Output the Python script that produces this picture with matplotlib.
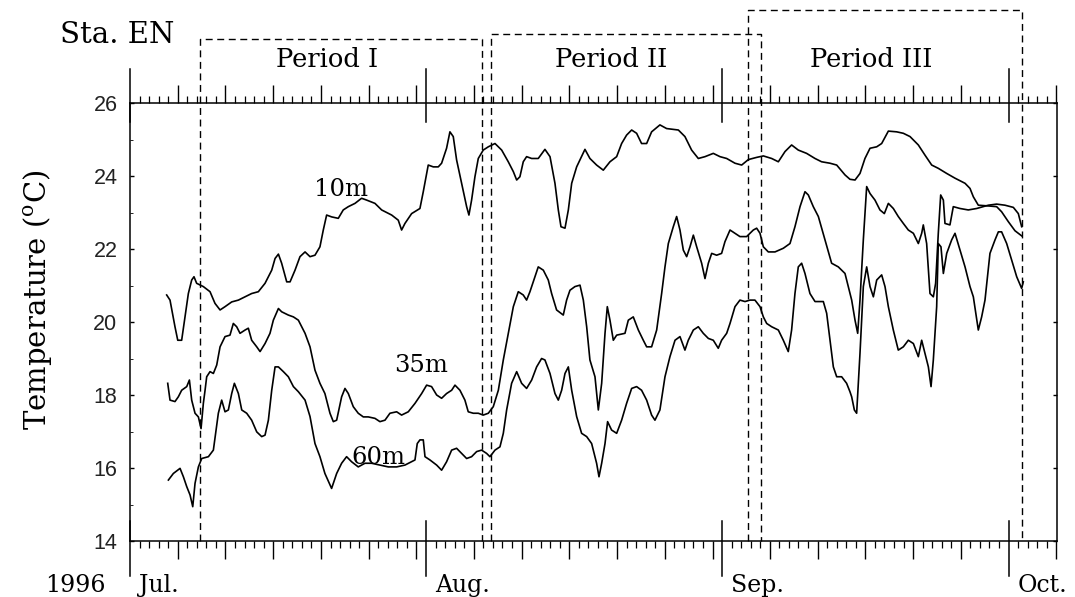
import numpy as np
import matplotlib.pyplot as plt
import matplotlib.transforms as mtransforms
from matplotlib.ticker import FixedLocator

plt.rcParams['font.family'] = 'DejaVu Serif'
plt.rcParams['mathtext.fontset'] = 'dejavuserif'

# time axis in days from 1 Jul 1996
month_names = ['Jul.', 'Aug.', 'Sep.', 'Oct.']
month_start = [0, 31, 62, 92]
month_len = [31, 31, 30, 31]
x_end = 97.07

periods = ['Period I', 'Period II', 'Period III']
period_start = [7.3, 37.75, 64.7]
period_end = [36.9, 66.05, 93.45]
period_top = [27.75, 27.88, 28.55]

depth_labels = ['10m', '35m', '60m']
label_day = [22.1, 30.5, 26.0]
label_temp = [23.62, 18.82, 16.30]

# (day, temperature)
pts_10m = [
    (3.84, 20.74), (4.19, 20.60), (4.71, 19.87), (5.0, 19.50), (5.41, 19.50), (5.76, 20.14),
    (6.11, 20.78), (6.46, 21.15), (6.70, 21.24), (6.98, 21.06), (7.68, 20.97), (8.38, 20.83),
    (8.90, 20.51), (9.43, 20.33), (9.95, 20.42), (10.65, 20.55), (11.35, 20.60), (12.05, 20.69),
    (12.74, 20.78), (13.44, 20.83), (14.14, 21.06), (14.84, 21.42), (15.19, 21.74), (15.54, 21.86),
    (15.88, 21.61), (16.41, 21.10), (16.76, 21.10), (17.28, 21.42), (17.80, 21.79), (18.33, 21.92),
    (18.85, 21.79), (19.37, 21.83), (19.89, 22.06), (20.24, 22.52), (20.59, 22.93), (21.11, 22.88),
    (21.81, 22.84), (22.33, 23.07), (22.86, 23.16), (23.56, 23.25), (24.25, 23.39), (24.78, 23.34),
    (25.65, 23.25), (26.35, 23.07), (27.40, 22.93), (28.09, 22.79), (28.44, 22.52), (28.79, 22.70),
    (29.49, 22.97), (30.36, 23.11), (30.71, 23.57), (31.23, 24.30), (31.76, 24.25), (32.28, 24.25),
    (32.63, 24.35), (33.15, 24.76), (33.50, 25.21), (33.85, 25.08), (34.20, 24.44), (34.72, 23.80),
    (35.25, 23.16), (35.49, 22.93), (35.77, 23.34), (36.12, 23.98), (36.47, 24.48), (36.99, 24.71),
    (37.52, 24.80), (38.22, 24.89), (38.92, 24.71), (39.61, 24.39), (40.14, 24.12), (40.49, 23.89),
    (40.83, 23.98), (41.18, 24.39), (41.53, 24.53), (42.06, 24.48), (42.75, 24.48), (43.45, 24.73),
    (43.98, 24.53), (44.50, 23.80), (44.85, 23.07), (45.13, 22.61), (45.55, 22.57), (45.90, 23.07),
    (46.25, 23.80), (46.77, 24.25), (47.64, 24.73), (48.16, 24.48), (48.86, 24.30), (49.56, 24.16),
    (50.26, 24.39), (50.96, 24.53), (51.48, 24.89), (52.00, 25.12), (52.53, 25.26), (53.05, 25.17),
    (53.57, 24.89), (54.10, 24.89), (54.62, 25.21), (55.49, 25.40), (56.19, 25.30), (57.42, 25.26),
    (58.11, 25.08), (58.81, 24.71), (59.51, 24.48), (60.21, 24.53), (61.08, 24.62), (61.78, 24.53),
    (62.48, 24.48), (63.35, 24.35), (64.05, 24.30), (64.75, 24.45), (65.62, 24.51), (66.32, 24.55),
    (67.19, 24.48), (67.89, 24.39), (68.59, 24.67), (69.28, 24.85), (69.98, 24.71), (70.85, 24.62),
    (71.73, 24.48), (72.42, 24.39), (73.30, 24.35), (74.00, 24.30), (74.87, 24.03), (75.39, 23.91),
    (75.92, 23.89), (76.44, 24.07), (76.96, 24.48), (77.49, 24.76), (78.19, 24.80), (78.71, 24.89),
    (79.41, 25.23), (80.28, 25.21), (80.98, 25.17), (81.68, 25.08), (82.55, 24.85), (83.25, 24.57),
    (83.95, 24.30), (84.64, 24.21), (85.52, 24.07), (86.39, 23.94), (87.44, 23.80), (87.96, 23.66),
    (88.31, 23.43), (88.83, 23.20), (89.88, 23.18), (90.75, 23.16), (91.27, 23.02), (91.97, 22.75),
    (92.67, 22.50), (93.37, 22.36),
]

pts_35m = [
    (3.95, 18.32), (4.19, 17.86), (4.71, 17.82), (5.06, 17.95), (5.41, 18.13), (5.94, 18.23),
    (6.22, 18.41), (6.46, 17.86), (6.81, 17.50), (7.16, 17.40), (7.44, 17.08), (7.68, 17.77),
    (7.86, 18.13), (8.03, 18.50), (8.38, 18.64), (8.73, 18.59), (9.08, 18.82), (9.43, 19.32),
    (9.95, 19.60), (10.47, 19.64), (10.82, 19.96), (11.17, 19.87), (11.52, 19.69), (12.05, 19.78),
    (12.39, 19.83), (12.74, 19.50), (13.27, 19.32), (13.62, 19.19), (14.14, 19.41), (14.66, 19.69),
    (15.01, 20.05), (15.54, 20.37), (15.88, 20.28), (16.58, 20.19), (17.11, 20.14), (17.63, 20.05),
    (18.33, 19.69), (18.85, 19.32), (19.37, 18.68), (19.89, 18.32), (20.41, 18.04), (20.94, 17.50),
    (21.29, 17.27), (21.64, 17.31), (22.16, 17.95), (22.51, 18.18), (22.86, 18.04), (23.38, 17.68),
    (23.90, 17.50), (24.43, 17.40), (24.95, 17.40), (25.65, 17.36), (26.17, 17.27), (26.70, 17.31),
    (27.22, 17.50), (27.92, 17.54), (28.44, 17.45), (29.14, 17.54), (29.84, 17.77), (30.54, 18.04),
    (31.06, 18.27), (31.58, 18.23), (32.11, 18.00), (32.63, 17.91), (33.15, 18.04), (33.68, 18.13),
    (34.03, 18.27), (34.55, 18.13), (35.07, 17.86), (35.42, 17.54), (35.95, 17.50), (36.47, 17.50),
    (36.99, 17.45), (37.52, 17.50), (38.04, 17.68), (38.57, 18.13), (39.09, 18.96), (39.61, 19.69),
    (40.14, 20.42), (40.66, 20.83), (41.18, 20.74), (41.53, 20.60), (41.88, 20.83), (42.41, 21.24),
    (42.75, 21.51), (43.28, 21.42), (43.80, 21.15), (44.15, 20.78), (44.67, 20.33), (45.37, 20.19),
    (45.72, 20.60), (46.07, 20.87), (46.59, 20.97), (47.12, 21.01), (47.47, 20.60), (47.82, 19.87),
    (48.16, 18.96), (48.69, 18.50), (49.04, 17.59), (49.39, 18.32), (49.74, 19.69), (49.98, 20.42),
    (50.26, 20.05), (50.61, 19.50), (50.96, 19.64), (51.83, 19.69), (52.18, 20.05), (52.70, 20.14),
    (53.23, 19.78), (53.75, 19.50), (54.10, 19.32), (54.62, 19.32), (55.15, 19.78), (55.67, 20.78),
    (56.02, 21.51), (56.37, 22.15), (56.89, 22.61), (57.24, 22.89), (57.59, 22.52), (57.94, 21.97),
    (58.29, 21.79), (58.64, 22.06), (58.99, 22.38), (59.34, 22.06), (59.86, 21.61), (60.21, 21.19),
    (60.56, 21.61), (60.91, 21.88), (61.43, 21.83), (61.95, 21.88), (62.30, 22.20), (62.83, 22.52),
    (63.35, 22.43), (63.87, 22.34), (64.57, 22.34), (65.27, 22.52), (65.62, 22.57), (65.97, 22.43),
    (66.32, 22.06), (66.84, 21.92), (67.54, 21.92), (68.41, 22.02), (69.11, 22.15), (69.63, 22.61),
    (70.16, 23.16), (70.68, 23.57), (71.03, 23.48), (71.55, 23.16), (72.08, 22.89), (72.77, 22.25),
    (73.47, 21.61), (74.17, 21.51), (74.87, 21.33), (75.22, 20.97), (75.57, 20.60), (75.92, 20.05),
    (76.20, 19.69), (76.44, 20.60), (76.79, 22.25), (77.14, 23.71), (77.49, 23.52), (78.01, 23.34),
    (78.53, 23.07), (78.99, 22.97), (79.41, 23.25), (79.93, 23.11), (80.45, 22.89), (80.98, 22.70),
    (81.50, 22.52), (82.03, 22.43), (82.55, 22.15), (82.90, 22.43), (83.07, 22.66), (83.42, 22.15),
    (83.77, 20.78), (84.12, 20.69), (84.36, 21.06), (84.64, 22.43), (84.89, 23.48), (85.17, 23.34),
    (85.34, 22.70), (85.86, 22.66), (86.21, 23.16), (86.91, 23.11), (87.78, 23.07), (88.66, 23.11),
    (89.88, 23.20), (90.75, 23.23), (91.62, 23.20), (92.50, 23.14), (93.02, 22.97), (93.37, 22.61),
]

pts_60m = [
    (4.02, 15.67), (4.54, 15.85), (5.24, 15.99), (5.59, 15.76), (5.94, 15.49), (6.29, 15.26),
    (6.57, 14.94), (6.81, 15.58), (7.16, 16.03), (7.51, 16.26), (8.21, 16.31), (8.73, 16.49),
    (8.97, 16.95), (9.25, 17.50), (9.60, 17.86), (9.95, 17.54), (10.30, 17.59), (10.65, 18.04),
    (10.93, 18.32), (11.35, 18.04), (11.70, 17.59), (12.22, 17.50), (12.74, 17.31), (13.27, 16.99),
    (13.79, 16.86), (14.14, 16.90), (14.49, 17.31), (14.84, 18.13), (15.19, 18.77), (15.54, 18.77),
    (16.06, 18.64), (16.58, 18.50), (17.11, 18.23), (17.63, 18.09), (18.33, 17.86), (18.85, 17.41),
    (19.37, 16.67), (19.89, 16.31), (20.41, 15.85), (21.11, 15.44), (21.64, 15.85), (22.16, 16.13),
    (22.68, 16.31), (23.21, 16.17), (23.90, 16.03), (24.60, 16.13), (25.30, 16.13), (26.17, 16.08),
    (27.05, 16.03), (27.92, 16.03), (28.79, 16.08), (29.84, 16.22), (30.08, 16.67), (30.36, 16.77),
    (30.71, 16.77), (30.89, 16.31), (31.41, 16.22), (32.11, 16.08), (32.63, 15.94), (33.15, 16.17),
    (33.68, 16.49), (34.20, 16.54), (34.72, 16.40), (35.25, 16.26), (35.77, 16.31), (36.30, 16.45),
    (36.82, 16.49), (37.34, 16.40), (37.69, 16.31), (38.22, 16.49), (38.74, 16.58), (39.09, 16.95),
    (39.44, 17.59), (39.96, 18.32), (40.49, 18.64), (41.01, 18.32), (41.53, 18.18), (42.06, 18.41),
    (42.58, 18.77), (43.10, 19.00), (43.45, 18.96), (43.98, 18.59), (44.50, 18.04), (44.85, 17.86),
    (45.20, 18.13), (45.55, 18.59), (45.90, 18.77), (46.25, 18.13), (46.77, 17.41), (47.29, 16.95),
    (47.82, 16.86), (48.34, 16.67), (48.86, 16.13), (49.11, 15.76), (49.39, 16.13), (49.74, 16.67),
    (50.01, 17.27), (50.43, 17.04), (50.96, 16.95), (51.48, 17.31), (52.00, 17.77), (52.53, 18.18),
    (53.05, 18.23), (53.57, 18.13), (54.10, 17.86), (54.62, 17.45), (54.97, 17.31), (55.49, 17.59),
    (56.02, 18.50), (56.54, 19.05), (57.07, 19.50), (57.59, 19.60), (58.11, 19.23), (58.46, 19.50),
    (58.99, 19.78), (59.51, 19.87), (60.03, 19.69), (60.56, 19.55), (61.08, 19.50), (61.60, 19.28),
    (61.95, 19.50), (62.48, 19.69), (62.83, 19.96), (63.35, 20.42), (63.87, 20.60), (64.40, 20.56),
    (64.92, 20.60), (65.44, 20.60), (65.97, 20.42), (66.32, 20.14), (66.67, 19.96), (67.19, 19.87),
    (67.89, 19.78), (68.41, 19.50), (68.93, 19.19), (69.28, 19.78), (69.63, 20.78), (69.98, 21.51),
    (70.33, 21.61), (70.68, 21.33), (71.20, 20.78), (71.73, 20.56), (72.25, 20.56), (72.60, 20.56),
    (72.95, 20.24), (73.30, 19.50), (73.65, 18.77), (74.00, 18.50), (74.52, 18.50), (75.04, 18.32),
    (75.39, 18.09), (75.57, 17.95), (75.85, 17.59), (76.09, 17.50), (76.44, 19.14), (76.79, 20.97),
    (77.14, 21.51), (77.49, 20.97), (77.84, 20.69), (78.19, 21.15), (78.71, 21.29), (79.06, 20.97),
    (79.41, 20.42), (79.93, 19.78), (80.45, 19.23), (80.98, 19.32), (81.50, 19.50), (82.03, 19.41),
    (82.55, 19.05), (82.90, 19.50), (83.25, 19.14), (83.60, 18.77), (83.88, 18.23), (84.12, 18.96),
    (84.47, 20.42), (84.64, 22.15), (84.92, 22.06), (85.17, 21.33), (85.52, 21.88), (86.04, 22.25),
    (86.39, 22.43), (86.91, 21.97), (87.44, 21.51), (87.96, 20.97), (88.31, 20.69), (88.83, 19.78),
    (89.18, 20.14), (89.53, 20.60), (90.05, 21.88), (90.58, 22.25), (90.93, 22.47), (91.27, 22.47),
    (91.80, 22.15), (92.32, 21.70), (92.85, 21.24), (93.37, 20.92), (93.54, 21.10),
]

W, H = 1075, 597
fig = plt.figure(figsize=(W / 100, H / 100), dpi=100)
ax = fig.add_axes([130 / W, 1 - 541 / H, 927 / W, 438 / H])

for pts in (pts_10m, pts_35m, pts_60m):
    d, t = np.array(pts).T
    ax.plot(d, t, color='black', lw=1.2)

ax.set_xlim(0, x_end)
ax.set_ylim(14, 26)

# x ticks: daily minor, every 5th day of each month medium, month starts long
medium = [m + k for m, n in zip(month_start, month_len)
          for k in range(5, n + 1, 5) if m + k not in month_start and m + k <= x_end]
minor = [d for d in range(0, int(x_end) + 1) if d not in medium and d not in month_start]
ax.xaxis.set_major_locator(FixedLocator(medium))
ax.xaxis.set_minor_locator(FixedLocator(minor))
ax.tick_params(axis='x', which='major', direction='out', length=13, width=1.0,
               top=True, bottom=True, labelbottom=False)
ax.tick_params(axis='x', which='minor', direction='out', length=5.2, width=0.9,
               top=True, bottom=True)

trans = mtransforms.blended_transform_factory(ax.transData, ax.transAxes)
for m in month_start:
    ax.plot([m, m], [-0.08, 0.046], transform=trans, color='black', lw=1.1, clip_on=False)
    ax.plot([m, m], [1 - 0.043, 1.078], transform=trans, color='black', lw=1.1, clip_on=False)

ax.set_yticks(range(14, 27, 2))
ax.yaxis.set_minor_locator(FixedLocator(range(15, 26, 2)))
ax.tick_params(axis='y', which='major', direction='in', length=3, width=1.0,
               left=True, right=True, labelsize=15.5, pad=9, labelcolor='#222222')
ax.tick_params(axis='y', which='minor', direction='in', length=2.5, left=True, right=False)
for lab in ax.get_yticklabels():
    lab.set_fontfamily('Liberation Sans')

for sp in ax.spines.values():
    sp.set_linewidth(1.1)

# period boxes (open at the bottom)
for name, s, e, top in zip(periods, period_start, period_end, period_top):
    ax.plot([s, s, e, e], [14, top, top, 14], color='black', lw=1.0,
            ls=(0, (5, 3.3)), clip_on=False)
    ax.text((s + e) / 2 - 1.5, 27.18, name, ha='center', va='center', fontsize=18.5)

for lab, d, t in zip(depth_labels, label_day, label_temp):
    ax.text(d, t, lab, ha='center', va='center', fontsize=17.5)

for name, m in zip(month_names, month_start):
    ax.text(m + 0.9, -0.1164, name, transform=trans, ha='left', va='baseline', fontsize=17)
ax.text(-2.6, -0.1164, '1996', transform=trans, ha='right', va='baseline', fontsize=17)

fig.text(60 / W, 1 - 43 / H, 'Sta. EN', ha='left', va='baseline', fontsize=21)
fig.text(38 / W, 1 - 300 / H, r'Temperature ($^{\rm o}$C)', rotation=90,
         ha='center', va='center', fontsize=21)

fig.savefig('out.png', dpi=100)
